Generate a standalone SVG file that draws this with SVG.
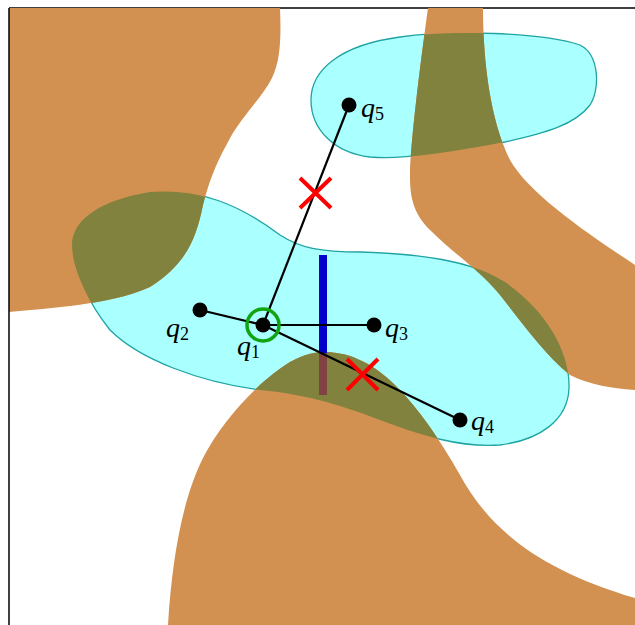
<svg xmlns="http://www.w3.org/2000/svg" width="635" height="625" viewBox="0 0 635 625">
<style>
.obs{fill:#d29150;stroke:none}
.olive{fill:#82823f;stroke:none}
.reg{fill:#aaffff;stroke:#1fa3a3;stroke-width:1.3}
.edge{stroke:#000;stroke-width:2.2;fill:none}
.pt{fill:#000}
.cross{stroke:#ff0000;stroke-width:4;fill:none}
.lbl{font-family:"Liberation Serif","DejaVu Serif",serif;font-style:italic;font-size:28px;fill:#000}
.sub{font-style:normal;font-size:18px}
</style>
<defs>
<path id="cyanA" d="M311,100 C311,70 340,45 400,37 C450,30 540,32 580,45 C600,55 600,90 590,105 C575,125 545,133 505,142 C460,150 410,160 370,157 C335,153 311,130 311,100 Z"/>
<path id="cyanB" d="M72,245 C72,220 100,200 150,192 C200,188 240,205 280,235 C300,248 320,252 360,252 C420,254 470,260 505,282 C545,310 570,350 569,388 C568,420 540,440 500,445 C460,448 420,435 380,420 C340,405 310,395 260,390 C200,382 140,360 110,330 C90,305 72,270 72,245 Z"/>
<path id="obsA" d="M9,8 L280,8 C281,35 281,60 272,78 C262,98 240,118 228,142 C215,165 208,185 203,205 C196,240 185,265 150,287 C110,305 50,308 9,312 Z"/>
<path id="obsB" d="M428,8 L483,8 C483,60 490,120 510,160 C530,195 590,235 635,265 L635,390 C610,388 590,385 570,375 C545,355 520,320 500,295 C480,270 455,255 430,230 C412,212 410,195 410,175 C410,150 418,80 428,8 Z"/>
<path id="obsC" d="M168,625 C172,560 182,500 203,458 C222,420 260,380 290,362 C305,354 315,352 325,352 C345,352 370,360 395,385 C420,410 440,440 460,475 C490,530 540,570 635,598 L635,625 Z"/>
<clipPath id="cyanClip"><use href="#cyanA"/><use href="#cyanB"/></clipPath>
</defs>
<rect width="635" height="625" fill="#fff"/>
<g id="frame-top" stroke="#000" stroke-width="1.5" fill="none">
<path d="M9,8 L635,8"/>
</g>
<g id="regions">
<use href="#cyanA" class="reg"/>
<use href="#cyanB" class="reg"/>
</g>
<g id="obstacles">
<use href="#obsA" class="obs"/>
<use href="#obsB" class="obs"/>
<use href="#obsC" class="obs"/>
<g clip-path="url(#cyanClip)">
<use href="#obsA" class="olive"/>
<use href="#obsB" class="olive"/>
<use href="#obsC" class="olive"/>
</g>
</g>
<g id="frame-left" stroke="#000" stroke-width="1.5" fill="none">
<path d="M9,625 L9,8"/>
</g>
<g id="separator">
<line x1="323" y1="255" x2="323" y2="353" stroke="#0000cc" stroke-width="8"/>
<line x1="323" y1="353" x2="323" y2="395" stroke="#804242" stroke-width="8"/>
</g>
<g id="connectors">
<line class="edge" x1="263" y1="325" x2="349" y2="105"/>
<line class="edge" x1="263" y1="325" x2="200" y2="310"/>
<line class="edge" x1="263" y1="325" x2="374" y2="325" stroke-width="1.6"/>
<line class="edge" x1="263" y1="325" x2="460" y2="420"/>
</g>
<g id="crosses">
<path class="cross" d="M300,178 L331,208 M331,178 L300,208"/>
<path class="cross" d="M347,359 L378,390 M378,359 L347,390"/>
</g>
<g id="q1"><circle cx="263" cy="325" r="16" fill="none" stroke="#10a510" stroke-width="3.5"/><circle class="pt" cx="263" cy="325" r="7.5"/><text class="lbl" x="237" y="355">q<tspan class="sub" dy="3">1</tspan></text></g>
<g id="q2"><circle class="pt" cx="200" cy="310" r="7.5"/><text class="lbl" x="166" y="337">q<tspan class="sub" dy="3">2</tspan></text></g>
<g id="q3"><circle class="pt" cx="374" cy="325" r="7.5"/><text class="lbl" x="385" y="337">q<tspan class="sub" dy="3">3</tspan></text></g>
<g id="q4"><circle class="pt" cx="460" cy="420" r="7.5"/><text class="lbl" x="471" y="430">q<tspan class="sub" dy="3">4</tspan></text></g>
<g id="q5"><circle class="pt" cx="349" cy="105" r="7.5"/><text class="lbl" x="361" y="117">q<tspan class="sub" dy="3">5</tspan></text></g>
</svg>
